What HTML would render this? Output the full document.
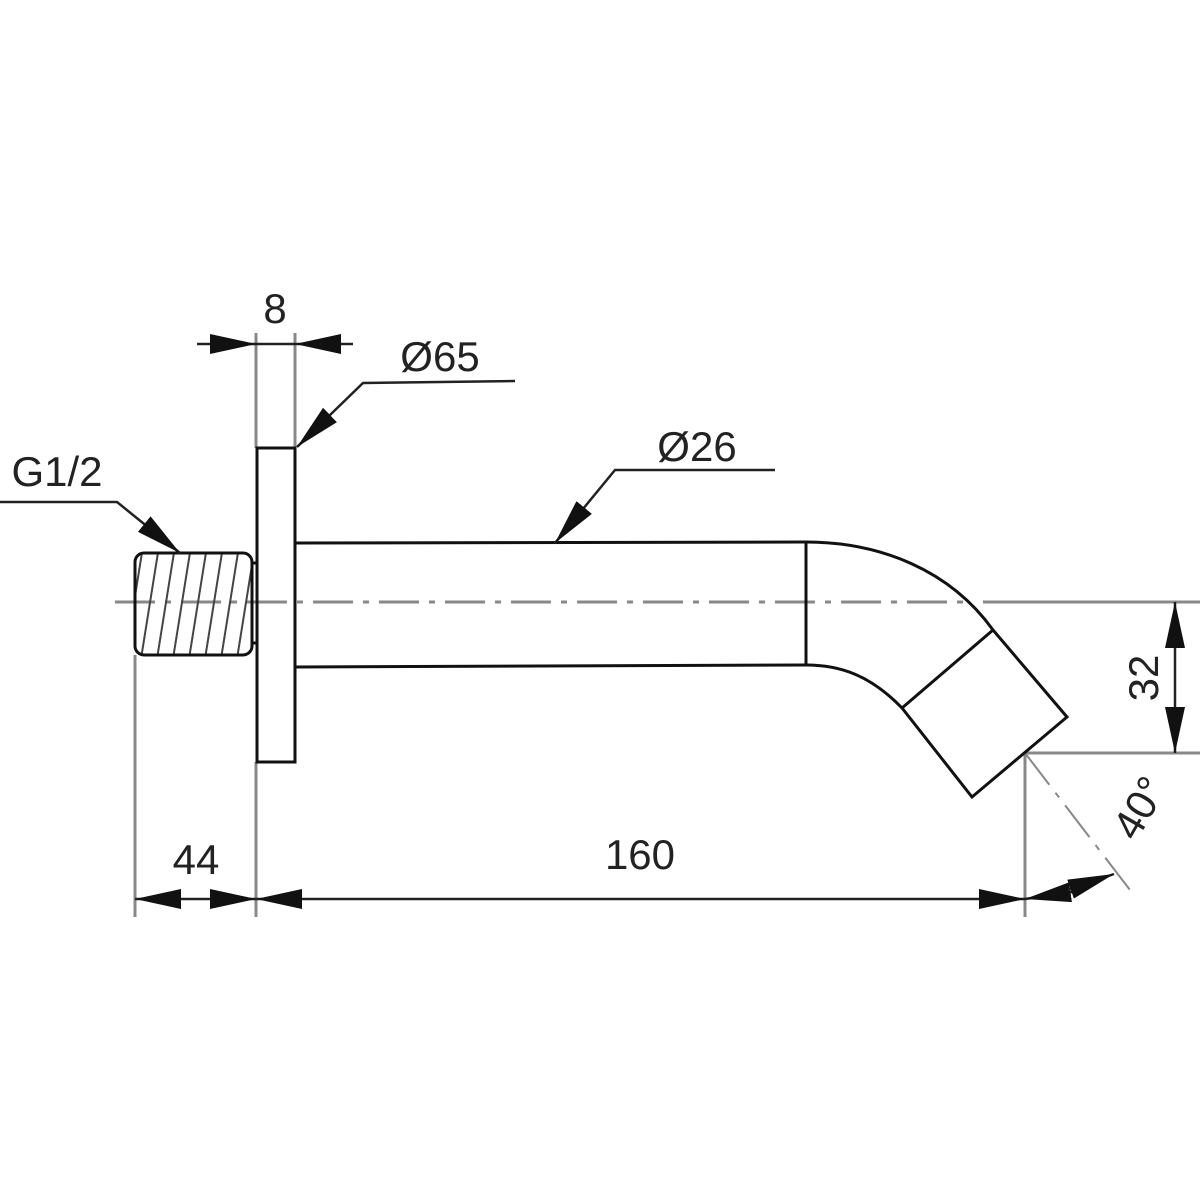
<!DOCTYPE html>
<html><head><meta charset="utf-8"><style>html,body{margin:0;padding:0;background:#fff}svg{display:block}</style></head>
<body>
<svg width="1200" height="1200" viewBox="0 0 1200 1200" xmlns="http://www.w3.org/2000/svg" font-family="Liberation Sans, sans-serif">
<defs>
<marker id="a" viewBox="0 0 46 20" refX="46" refY="10" markerWidth="46" markerHeight="20" markerUnits="userSpaceOnUse" orient="auto-start-reverse"><path d="M0,0 L46,10 L0,20 Z" fill="#111"/></marker>
<clipPath id="fc"><rect x="135" y="553" width="117" height="102" rx="9"/></clipPath>
</defs>
<rect width="1200" height="1200" fill="#fff"/>
<line x1="115" y1="602" x2="965" y2="602" stroke="#888" stroke-width="3" stroke-dasharray="40,10,6,10"/>
<g stroke="#888" stroke-width="3" fill="none">
<line x1="135" y1="655" x2="135" y2="917"/>
<line x1="256" y1="762" x2="256" y2="917"/>
<line x1="256" y1="333" x2="256" y2="448"/>
<line x1="295" y1="333" x2="295" y2="448"/>
<line x1="983" y1="602" x2="1200" y2="602"/>
<line x1="1025" y1="753" x2="1200" y2="753"/>
<line x1="1025" y1="753" x2="1025" y2="917"/>
<line x1="1025" y1="753" x2="1130" y2="890" stroke-dasharray="40,10,6,10" stroke-width="2"/>
</g>
<g clip-path="url(#fc)" stroke="#444" stroke-width="2">
<line x1="140" y1="665" x2="160" y2="540"/><line x1="156" y1="665" x2="176" y2="540"/><line x1="172" y1="665" x2="192" y2="540"/><line x1="188" y1="665" x2="208" y2="540"/><line x1="204" y1="665" x2="224" y2="540"/><line x1="220" y1="665" x2="240" y2="540"/><line x1="236" y1="665" x2="256" y2="540"/><line x1="124" y1="665" x2="144" y2="540"/>
</g>
<g stroke="#111" stroke-width="3" fill="none">
<rect x="135" y="553" width="117" height="102" rx="9"/>
<rect x="252" y="563" width="5" height="80"/>
<rect x="257" y="448" width="38" height="314"/>
<path d="M295,543 L806,542 C880,542 950,570 993,630 L1067,717 L972,797 L902,708 C870,675 840,665 806,665 L295,667"/>
<line x1="806" y1="542" x2="806" y2="665"/>
<line x1="993" y1="630" x2="902" y2="708"/>
</g>
<g stroke="#222" stroke-width="2.5" fill="none">
<line x1="197" y1="344" x2="256" y2="344" marker-end="url(#a)"/>
<line x1="256" y1="344" x2="295" y2="344"/>
<line x1="353" y1="344" x2="295" y2="344" marker-end="url(#a)"/>
<line x1="135" y1="899" x2="256" y2="899" marker-start="url(#a)" marker-end="url(#a)"/>
<line x1="256" y1="899" x2="1025" y2="899" marker-start="url(#a)" marker-end="url(#a)"/>
<line x1="1072" y1="892" x2="1025" y2="899" marker-end="url(#a)"/>
<line x1="1068" y1="890" x2="1114" y2="874" marker-end="url(#a)"/>
<line x1="1175" y1="602" x2="1175" y2="753" marker-start="url(#a)" marker-end="url(#a)"/>
<polyline points="515,381 363,383 297,447" marker-end="url(#a)"/>
<polyline points="775,470 615,470 555,543" marker-end="url(#a)"/>
<polyline points="0,502 117,502 180,553" marker-end="url(#a)"/>
</g>
<g fill="#222" font-size="42">
<text x="275" y="323" text-anchor="middle">8</text>
<text x="440" y="371" text-anchor="middle">Ø65</text>
<text x="697" y="461" text-anchor="middle">Ø26</text>
<text x="57" y="486" text-anchor="middle">G1/2</text>
<text x="196" y="874" text-anchor="middle">44</text>
<text x="640" y="869" text-anchor="middle">160</text>
<text transform="translate(1158,678) rotate(-90)" text-anchor="middle">32</text>
<text transform="translate(1152,815) rotate(-60)" text-anchor="middle">40°</text>
</g>
</svg>
</body></html>
